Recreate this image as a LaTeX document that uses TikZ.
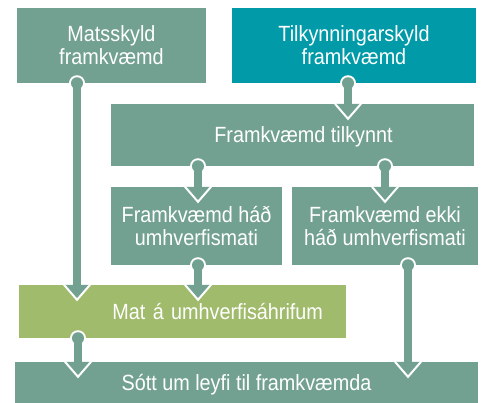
\documentclass[tikz,border=0pt]{standalone}
\usepackage{fontspec}
\setmainfont{Liberation Sans}[FakeStretch=0.9]
\definecolor{boxgreen}{HTML}{72A192}
\definecolor{boxteal}{HTML}{009AA8}
\definecolor{boxlime}{HTML}{A0BB6C}

% connector: source node, target node, x position
\newcommand{\flowlink}[3]{%
  \coordinate (s) at (#3,0 |- #1.south);
  \coordinate (t) at (#3,0 |- #2.north);
  \fill[white] (s) circle (8);
  \draw[linkline] (s) -- (t);
  \fill[boxgreen] (s) circle (6);
  \fill[boxgreen] (t) ++(-13,0) -- ++(13,15) -- ++(13,-15) -- cycle;
  \draw[white, line width=2pt] (t) ++(-13,0) -- ++(13,15) -- ++(13,-15);
}

\begin{document}
\begin{tikzpicture}[x=1pt,y=-1pt,
    box/.style ={fill=boxgreen, text=white, inner sep=0pt, align=center,
                 font=\fontsize{22}{23}\selectfont},
    linkline/.style ={draw=boxgreen, line width=8pt}]
  \useasboundingbox (0,0) rectangle (481,402);
  \node[box, minimum width=189pt, minimum height=75pt] (mats) at (111.5,45.5) {Matsskyld\\framkvæmd};
  \node[box, fill=boxteal, minimum width=244pt, minimum height=75pt] (tilk) at (354,45.5) {Tilkynningarskyld\\framkvæmd};
  \node[box, minimum width=363pt, minimum height=62pt, text depth=0pt] (tilkynnt) at (292.5,135) {\hspace*{22pt}Framkvæmd tilkynnt};
  \node[box, minimum width=171pt, minimum height=78pt] (hadh) at (196.5,226) {Framkvæmd háð\\umhverfismati};
  \node[box, minimum width=186pt, minimum height=78pt] (ekki) at (385,226) {Framkvæmd ekki\\háð umhverfismati};
  \node[box, fill=boxlime, minimum width=327pt, minimum height=53pt, text width=281pt, inner xsep=23pt, align=right] (mat) at (182.5,311.5) {Mat á umhverfisáhrifum};
  \node[box, minimum width=463pt, minimum height=46pt] (leyfi) at (246.5,385) {Sótt um leyfi til framkvæmda};
  \flowlink{mats}{mat}{77}
  \flowlink{tilk}{tilkynnt}{348}
  \flowlink{tilkynnt}{hadh}{198}
  \flowlink{tilkynnt}{ekki}{385}
  \flowlink{hadh}{mat}{198}
  \flowlink{ekki}{leyfi}{408}
  \flowlink{mat}{leyfi}{78}
\end{tikzpicture}
\end{document}
